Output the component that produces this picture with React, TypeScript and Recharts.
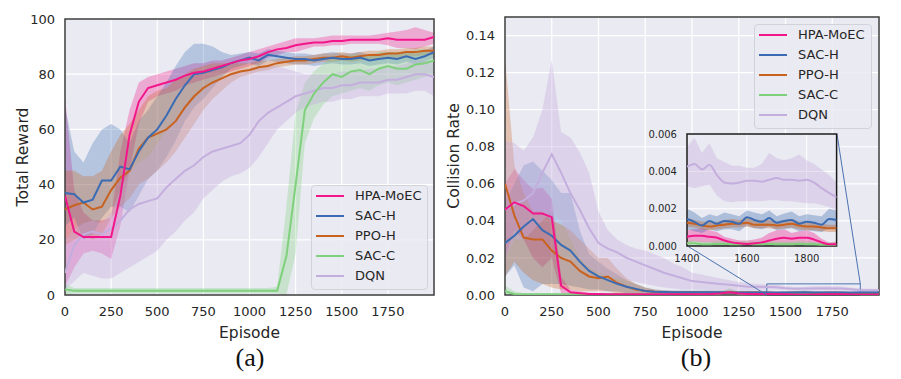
import {
  ComposedChart, Area, Line, XAxis, YAxis, CartesianGrid, ReferenceArea, ReferenceLine,
} from 'recharts';

// episodes sampled every 50 steps
const episodes = [
  0, 50, 100, 150, 200, 250, 300, 350, 400, 450, 500, 550, 600, 650, 700, 750, 800, 850, 900, 950,
  1000, 1050, 1100, 1150, 1200, 1250, 1300, 1350, 1400, 1450, 1500, 1550, 1600, 1650, 1700, 1750,
  1800, 1850, 1900, 1950, 2000,
];
const episodeTicks = [0, 250, 500, 750, 1000, 1250, 1500, 1750];
const rewardTicks = [0, 20, 40, 60, 80, 100];
const collisionTicks = [0, 0.02, 0.04, 0.06, 0.08, 0.1, 0.12, 0.14];

// (a) total reward: mean, lower, upper
const rewardHpa = [36, 23, 21, 21, 21, 21, 36, 58, 70, 75, 76, 77, 78, 79.5, 80.5, 81, 82, 83, 84, 85, 85.5, 86.5, 88, 89, 89.5, 90.5, 91, 91.5, 91.5, 92, 92, 92.5, 92.5, 92.5, 92.5, 93, 92.5, 92.5, 92.5, 92.5, 93.5];
const rewardHpaLo = [3, 10, 15, 16, 15, 13, 25, 45, 62, 70, 72, 73, 74, 76, 77, 78, 79, 80, 81, 82, 83, 84, 86, 87, 88, 88, 89, 90, 90, 90.5, 90.5, 91, 91, 91, 91, 90.5, 89.5, 89.5, 89, 90, 91];
const rewardHpaHi = [72, 38, 30, 27, 27, 28, 52, 67, 77, 79, 80, 81, 82, 83, 84, 84, 85, 85, 86, 87, 88, 89, 90, 91, 92, 93, 93, 93, 93.5, 94, 94, 94, 94, 94, 94.5, 95, 95.5, 96, 97, 96, 95];

const rewardSacH = [37, 36.5, 33.5, 34.5, 41.5, 41.5, 46.5, 45.5, 52, 57, 60, 65, 71, 76, 80, 80.5, 81.5, 82.5, 84, 85, 86, 85, 87, 86.5, 86, 85.5, 85.5, 85, 85.5, 86, 85.5, 85.5, 86, 85, 85.5, 86, 85.5, 86.5, 85.5, 86.5, 88];
const rewardSacHLo = [25, 28, 20, 22, 28, 32, 32, 30, 36, 42, 45, 50, 56, 63, 68, 71, 75, 79, 82, 83, 84, 83, 85, 84.5, 84, 83.5, 83.5, 83, 83.5, 84, 83.5, 83.5, 84, 83, 83.5, 84, 83.5, 84.5, 83.5, 84.5, 86];
const rewardSacHHi = [68, 52, 48, 55, 60, 62, 60, 55, 63, 67, 72, 77, 83, 88, 91, 91, 90, 88, 87, 87.5, 88, 87.5, 89, 88.5, 88, 87.5, 87.5, 87, 87.5, 88, 87.5, 87.5, 88, 87, 87.5, 88, 87.5, 88.5, 87.5, 88.5, 90];

const rewardPpoH = [31, 32.5, 33.5, 31, 32, 38, 42.5, 45, 53, 57, 58.5, 60, 63, 68, 72, 75, 77, 78.5, 80, 81, 81.5, 82.5, 83, 84, 84.5, 85, 85, 85.5, 86, 86, 86.5, 86, 86.5, 87, 87, 87.5, 87.5, 88, 88, 88.5, 88.5];
const rewardPpoHLo = [18, 20, 22, 20, 22, 28, 32, 35, 40, 42, 45, 48, 52, 57, 62, 67, 71, 74, 77, 79, 80, 81, 81.5, 82.5, 83, 83.5, 83.5, 84, 84.5, 84.5, 85, 84.5, 85, 85.5, 85.5, 86, 86, 86.5, 86.5, 87, 87];
const rewardPpoHHi = [45, 45, 43, 43, 45, 52, 58, 62, 67, 72, 74, 75, 78, 80, 82, 83, 84, 84, 84, 84, 84, 85, 85, 85.5, 86, 86.5, 86.5, 87, 87.5, 87.5, 88, 87.5, 88, 88.5, 88.5, 89, 89, 89.5, 89.5, 90, 90];

const rewardSacC = [2, 1.5, 1.5, 1.5, 1.5, 1.5, 1.5, 1.5, 1.5, 1.5, 1.5, 1.5, 1.5, 1.5, 1.5, 1.5, 1.5, 1.5, 1.5, 1.5, 1.5, 1.5, 1.5, 1.5, 14, 40, 67, 73, 77, 80, 79, 81, 81.5, 80, 82, 83, 82, 82, 83.5, 84, 85];
const rewardSacCLo = [0, 0.5, 0.5, 0.5, 0.5, 0.5, 0.5, 0.5, 0.5, 0.5, 0.5, 0.5, 0.5, 0.5, 0.5, 0.5, 0.5, 0.5, 0.5, 0.5, 0.5, 0.5, 0.5, 0.5, 0, 15, 55, 64, 69, 72, 73, 74, 75, 74, 76, 77, 76, 77, 78, 79, 80];
const rewardSacCHi = [4, 2.5, 2.5, 2.5, 2.5, 2.5, 2.5, 2.5, 2.5, 2.5, 2.5, 2.5, 2.5, 2.5, 2.5, 2.5, 2.5, 2.5, 2.5, 2.5, 2.5, 2.5, 2.5, 3, 32, 66, 77, 81, 84, 86, 86, 87, 87, 87, 88, 88, 88, 88, 89, 89, 88];

const rewardDqn = [8, 18, 22, 23, 22, 24, 27, 31, 33, 34, 35, 39, 42, 45, 47, 50, 52, 53, 54, 55, 58, 63, 66, 68, 70, 72, 73, 74, 75, 75, 76, 76, 77, 77, 77, 78, 78, 79, 80, 80, 79];
const rewardDqnLo = [2, 5, 8, 7, 6, 6, 8, 10, 12, 14, 16, 20, 23, 27, 30, 35, 38, 41, 43, 44, 46, 50, 55, 60, 63, 66, 68, 69, 70, 70, 71, 71, 72, 72, 72, 73, 73, 73, 74, 74, 72];
const rewardDqnHi = [20, 24, 26, 27, 26, 30, 38, 45, 48, 50, 55, 60, 64, 67, 71, 74, 77, 79, 80, 81, 82, 83, 83, 83, 82, 81, 80, 80, 80, 80, 81, 81, 81, 82, 82, 83, 83, 84, 85, 85, 84];

// (b) collision rate: mean, lower, upper
const colHpa = [0.046, 0.05, 0.048, 0.044, 0.044, 0.042, 0.005, 0.0015, 0.001, 0.0006, 0.0005, 0.0004, 0.0004, 0.0004, 0.0004, 0.0004, 0.0004, 0.0004, 0.0004, 0.0004, 0.0004, 0.0004, 0.0005, 0.0008, 0.0015, 0.0008, 0.0005, 0.0005, 0.0005, 0.0005, 0.0004, 0.0002, 0.0001, 0.0002, 0.0004, 0.0004, 0.0004, 0.0003, 0.0001, 0.0001, 0.0001];
const colHpaLo = [0.02, 0.035, 0.03, 0.02, 0.015, 0.02, 0.001, 0, 0, 0, 0, 0, 0, 0, 0, 0, 0, 0, 0, 0, 0, 0, 0, 0.0002, 0.0005, 0.0002, 0, 0, 0.0002, 0.0001, 0.0001, 0, 0, 0, 0.0001, 0.0001, 0.0001, 0, 0, 0, 0];
const colHpaHi = [0.06, 0.068, 0.062, 0.057, 0.058, 0.052, 0.01, 0.003, 0.002, 0.0012, 0.001, 0.0009, 0.0009, 0.0009, 0.0009, 0.0009, 0.0009, 0.0009, 0.0009, 0.0009, 0.0009, 0.0009, 0.001, 0.0018, 0.003, 0.0018, 0.001, 0.001, 0.0009, 0.0009, 0.0007, 0.0004, 0.0003, 0.0006, 0.0009, 0.0009, 0.0008, 0.0006, 0.0003, 0.0003, 0.0003];

const colSacH = [0.028, 0.032, 0.037, 0.041, 0.035, 0.032, 0.027, 0.024, 0.018, 0.013, 0.01, 0.008, 0.006, 0.0045, 0.0033, 0.0022, 0.0018, 0.0016, 0.0015, 0.0015, 0.0015, 0.0015, 0.0015, 0.0015, 0.0014, 0.0014, 0.0014, 0.0014, 0.0014, 0.0012, 0.0013, 0.0013, 0.0015, 0.0013, 0.0013, 0.0013, 0.0013, 0.0012, 0.0014, 0.0013, 0.0013];
const colSacHLo = [0.01, 0.016, 0.004, 0.002, 0.006, 0.006, 0.006, 0.005, 0.004, 0.003, 0.003, 0.002, 0.002, 0.001, 0.001, 0.0008, 0.0008, 0.0008, 0.0008, 0.0008, 0.0008, 0.0008, 0.0008, 0.0008, 0.0008, 0.0008, 0.0008, 0.0008, 0.0008, 0.0008, 0.0008, 0.0008, 0.0008, 0.0008, 0.0008, 0.0008, 0.0008, 0.0008, 0.0008, 0.0008, 0.0008];
const colSacHHi = [0.05, 0.06, 0.07, 0.072, 0.067, 0.062, 0.055, 0.055, 0.035, 0.022, 0.018, 0.014, 0.011, 0.008, 0.006, 0.004, 0.003, 0.0025, 0.0024, 0.0024, 0.0024, 0.0024, 0.0024, 0.0024, 0.0023, 0.0023, 0.0023, 0.0023, 0.0023, 0.0021, 0.0022, 0.0022, 0.0024, 0.0022, 0.0022, 0.0022, 0.0022, 0.0021, 0.0023, 0.0022, 0.0022];

const colPpoH = [0.06, 0.043, 0.031, 0.03, 0.03, 0.024, 0.02, 0.018, 0.013, 0.01, 0.009, 0.01, 0.0065, 0.0045, 0.003, 0.0022, 0.0018, 0.0016, 0.0014, 0.0014, 0.0014, 0.0014, 0.0014, 0.0014, 0.0014, 0.0014, 0.0013, 0.0013, 0.0012, 0.0011, 0.0011, 0.0012, 0.0012, 0.0011, 0.0011, 0.0012, 0.0011, 0.001, 0.001, 0.001, 0.001];
const colPpoHLo = [0.01, 0.018, 0.012, 0.008, 0.006, 0.004, 0.003, 0.003, 0.002, 0.002, 0.002, 0.002, 0.001, 0.001, 0.0008, 0.0008, 0.0008, 0.0008, 0.0008, 0.0008, 0.0008, 0.0008, 0.0008, 0.0008, 0.0008, 0.0008, 0.0008, 0.0008, 0.0008, 0.0008, 0.0008, 0.0008, 0.0008, 0.0008, 0.0008, 0.0008, 0.0008, 0.0008, 0.0008, 0.0008, 0.0008];
const colPpoHHi = [0.128, 0.07, 0.055, 0.045, 0.045, 0.04, 0.038, 0.035, 0.03, 0.025, 0.02, 0.02, 0.014, 0.009, 0.006, 0.004, 0.003, 0.0024, 0.0022, 0.0022, 0.0022, 0.0022, 0.0022, 0.0022, 0.0022, 0.0022, 0.0021, 0.0021, 0.002, 0.0019, 0.0019, 0.002, 0.002, 0.0019, 0.0019, 0.002, 0.0019, 0.0018, 0.0018, 0.0018, 0.0018];

const colSacC = [0.002, 0.0006, 0.0004, 0.0004, 0.0004, 0.0004, 0.0004, 0.0004, 0.0004, 0.0004, 0.0004, 0.0004, 0.0004, 0.0004, 0.0004, 0.0004, 0.0004, 0.0004, 0.0004, 0.0004, 0.0004, 0.0004, 0.0004, 0.0008, 0.0018, 0.0008, 0.00015, 0.00015, 0.00015, 0.00015, 0.00015, 0.00015, 0.00015, 0.00015, 0.00015, 0.00015, 0.00015, 0.00015, 0.00015, 0.00015, 0.00015];
const colSacCLo = [0, 0, 0, 0, 0, 0, 0, 0, 0, 0, 0, 0, 0, 0, 0, 0, 0, 0, 0, 0, 0, 0, 0, 0, 0, 0, 0, 0, 0, 0, 0, 0, 0, 0, 0, 0, 0, 0, 0, 0, 0];
const colSacCHi = [0.005, 0.002, 0.0008, 0.0008, 0.0008, 0.0008, 0.0008, 0.0008, 0.0008, 0.0008, 0.0008, 0.0008, 0.0008, 0.0008, 0.0008, 0.0008, 0.0008, 0.0008, 0.0008, 0.0008, 0.0008, 0.0008, 0.0008, 0.0018, 0.0038, 0.0018, 0.0003, 0.0003, 0.0003, 0.0003, 0.0003, 0.0003, 0.0003, 0.0003, 0.0003, 0.0003, 0.0003, 0.0003, 0.0003, 0.0003, 0.0003];

const colDqn = [0.046, 0.049, 0.051, 0.055, 0.066, 0.076, 0.066, 0.055, 0.046, 0.036, 0.028, 0.025, 0.023, 0.02, 0.018, 0.016, 0.014, 0.012, 0.0105, 0.009, 0.0075, 0.007, 0.0065, 0.006, 0.0055, 0.005, 0.0045, 0.0045, 0.0043, 0.0042, 0.0037, 0.0034, 0.0035, 0.0035, 0.0036, 0.0035, 0.0035, 0.0031, 0.0026, 0.0025, 0.0025];
const colDqnLo = [0.02, 0.03, 0.03, 0.035, 0.04, 0.045, 0.04, 0.03, 0.02, 0.015, 0.012, 0.01, 0.009, 0.008, 0.007, 0.006, 0.005, 0.004, 0.0035, 0.003, 0.003, 0.0028, 0.0026, 0.0025, 0.0025, 0.0025, 0.0025, 0.0028, 0.003, 0.003, 0.0026, 0.0024, 0.0024, 0.0024, 0.0025, 0.0024, 0.0024, 0.0022, 0.0018, 0.0017, 0.0016];
const colDqnHi = [0.083, 0.082, 0.078, 0.085, 0.1, 0.127, 0.088, 0.085, 0.077, 0.066, 0.045, 0.035, 0.03, 0.027, 0.025, 0.024, 0.022, 0.02, 0.017, 0.015, 0.012, 0.011, 0.01, 0.009, 0.008, 0.007, 0.0065, 0.006, 0.0057, 0.0055, 0.0048, 0.0043, 0.0042, 0.0048, 0.0047, 0.0049, 0.0046, 0.004, 0.0035, 0.0034, 0.0034];

// zoomed inset, episodes 1400-1900 every 25 steps
const zoomEpisodes = [1400, 1425, 1450, 1475, 1500, 1525, 1550, 1575, 1600, 1625, 1650, 1675, 1700, 1725, 1750, 1775, 1800, 1825, 1850, 1875, 1900];
const zoomTicksX = [1400, 1600, 1800];
const zoomTicksY = [0, 0.002, 0.004, 0.006];

const zHpa = [0.0005, 0.00055, 0.00055, 0.0005, 0.00045, 0.0003, 0.0002, 0.00015, 0.00012, 0.00015, 0.0002, 0.0003, 0.0004, 0.00045, 0.0004, 0.00045, 0.00045, 0.00035, 0.0002, 0.0001, 0.0001];
const zHpaLo = [0.0002, 0.00025, 0.0002, 0.0002, 0.00015, 0.00005, 0, 0, 0, 0, 0, 0.00005, 0.0001, 0.0001, 0.0001, 0.0001, 0.0001, 0.00005, 0, 0, 0];
const zHpaHi = [0.00085, 0.0009, 0.00095, 0.00085, 0.00075, 0.0005, 0.0004, 0.0003, 0.0003, 0.00035, 0.00045, 0.0007, 0.00085, 0.0009, 0.0007, 0.0008, 0.00085, 0.0007, 0.0004, 0.0002, 0.00025];
const zSacH = [0.00145, 0.0013, 0.0011, 0.00135, 0.0012, 0.00135, 0.0013, 0.0012, 0.00155, 0.0014, 0.0013, 0.0015, 0.00125, 0.00135, 0.0014, 0.0012, 0.0013, 0.00125, 0.00115, 0.00145, 0.0014];
const zSacHLo = [0.0009, 0.0008, 0.0007, 0.0009, 0.0008, 0.0009, 0.0009, 0.0008, 0.0011, 0.00095, 0.0009, 0.00105, 0.00085, 0.0009, 0.00095, 0.0008, 0.00085, 0.0008, 0.00075, 0.00095, 0.0009];
const zSacHHi = [0.002, 0.0018, 0.0015, 0.0017, 0.0016, 0.0018, 0.0017, 0.0016, 0.0019, 0.0018, 0.0017, 0.0019, 0.0016, 0.00175, 0.00185, 0.0016, 0.0017, 0.00165, 0.0016, 0.002, 0.0019];
const zPpoH = [0.00125, 0.0012, 0.0011, 0.00105, 0.0011, 0.00115, 0.0012, 0.0012, 0.00125, 0.00115, 0.00115, 0.00115, 0.0011, 0.00115, 0.0012, 0.0011, 0.00105, 0.00105, 0.001, 0.00095, 0.00095];
const zPpoHLo = [0.00105, 0.001, 0.0009, 0.00085, 0.0009, 0.00095, 0.001, 0.001, 0.00105, 0.00095, 0.00095, 0.00095, 0.0009, 0.00095, 0.001, 0.0009, 0.00085, 0.00085, 0.0008, 0.00075, 0.00075];
const zPpoHHi = [0.0015, 0.0014, 0.0013, 0.0013, 0.0013, 0.0014, 0.00145, 0.0014, 0.0015, 0.0014, 0.0014, 0.0014, 0.0013, 0.0014, 0.00145, 0.0013, 0.0013, 0.00125, 0.0012, 0.00115, 0.00115];
const zSacC = [0.00015, 0.00015, 0.0001, 0.0001, 0.00012, 0.00012, 0.0001, 0.0001, 0.00012, 0.0001, 0.0001, 0.00012, 0.0001, 0.0001, 0.0001, 0.00012, 0.0001, 0.0001, 0.00008, 0.00008, 0.00008];
const zSacCLo = [0, 0, 0, 0, 0, 0, 0, 0, 0, 0, 0, 0, 0, 0, 0, 0, 0, 0, 0, 0, 0];
const zSacCHi = [0.00032, 0.0003, 0.00025, 0.00025, 0.0003, 0.00028, 0.00025, 0.00025, 0.00028, 0.00025, 0.00025, 0.0003, 0.00025, 0.00025, 0.00025, 0.00028, 0.00025, 0.00022, 0.0002, 0.0002, 0.0002];
const zDqn = [0.00425, 0.0044, 0.0041, 0.00435, 0.0038, 0.0034, 0.00335, 0.0034, 0.0035, 0.0035, 0.00345, 0.00355, 0.00365, 0.00355, 0.00355, 0.0035, 0.00355, 0.0034, 0.0031, 0.00285, 0.0026];
const zDqnLo = [0.0032, 0.0031, 0.0032, 0.0033, 0.0027, 0.0024, 0.00235, 0.0024, 0.0024, 0.0024, 0.0024, 0.00245, 0.00245, 0.0024, 0.0024, 0.00235, 0.0023, 0.0023, 0.0022, 0.0021, 0.0019];
const zDqnHi = [0.0053, 0.0058, 0.005, 0.0055, 0.0047, 0.0045, 0.0043, 0.0043, 0.0042, 0.0042, 0.0044, 0.005, 0.0047, 0.0046, 0.0047, 0.0049, 0.0046, 0.0044, 0.0041, 0.0038, 0.0034];

const SERIES = [
  { key: 'hpa', name: 'HPA-MoEC', color: '#f2168a' },
  { key: 'sach', name: 'SAC-H', color: '#3b6cb3' },
  { key: 'ppoh', name: 'PPO-H', color: '#c9621f' },
  { key: 'sacc', name: 'SAC-C', color: '#7fd07c' },
  { key: 'dqn', name: 'DQN', color: '#c4aede' },
];

type Triple = [number[], number[], number[]];

function buildRows(xs: number[], sets: Record<string, Triple>) {
  return xs.map((ep, i) => {
    const row: Record<string, number | number[]> = { ep };
    for (const [k, [m, lo, hi]] of Object.entries(sets)) {
      row[k] = m[i];
      row[`${k}Band`] = [lo[i], hi[i]];
    }
    return row;
  });
}

const rewardRows = buildRows(episodes, {
  hpa: [rewardHpa, rewardHpaLo, rewardHpaHi],
  sach: [rewardSacH, rewardSacHLo, rewardSacHHi],
  ppoh: [rewardPpoH, rewardPpoHLo, rewardPpoHHi],
  sacc: [rewardSacC, rewardSacCLo, rewardSacCHi],
  dqn: [rewardDqn, rewardDqnLo, rewardDqnHi],
});
const collisionRows = buildRows(episodes, {
  hpa: [colHpa, colHpaLo, colHpaHi],
  sach: [colSacH, colSacHLo, colSacHHi],
  ppoh: [colPpoH, colPpoHLo, colPpoHHi],
  sacc: [colSacC, colSacCLo, colSacCHi],
  dqn: [colDqn, colDqnLo, colDqnHi],
});
const zoomRows = buildRows(zoomEpisodes, {
  hpa: [zHpa, zHpaLo, zHpaHi],
  sach: [zSacH, zSacHLo, zSacHHi],
  ppoh: [zPpoH, zPpoHLo, zPpoHHi],
  sacc: [zSacC, zSacCLo, zSacCHi],
  dqn: [zDqn, zDqnLo, zDqnHi],
});

const TEXT = '#262626';
const BG = '#eaeaf2';
const FRAME = '#3c3c3c';
const ZOOM_LINE = '#4a72b0';

// panel (b) geometry, used to place the inset
const B_LEFT = 430;
const B_W = 471;
const B_YAXIS = 75;
const B_MARGIN = { top: 17, right: 22, left: 0, bottom: 39 };
const B_XAXIS = 45;
const H = 379;
const bPlotLeft = B_LEFT + B_YAXIS;
const bPlotW = B_W - B_YAXIS - B_MARGIN.right;
const bPlotTop = B_MARGIN.top;
const bPlotH = H - B_MARGIN.top - B_MARGIN.bottom - B_XAXIS;
const X_MAX = 2000;
const Y_MAX_B = 0.15;
// inset box corners expressed in panel (b) data units
const INSET_X = [975, 1775];
const INSET_Y = [0.0265, 0.087];
const px = (ep: number) => bPlotLeft + (ep / X_MAX) * bPlotW;
const py = (v: number) => bPlotTop + (1 - v / Y_MAX_B) * bPlotH;

function bands(opacity = 0.3) {
  return SERIES.map(s => (
    <Area key={`${s.key}-band`} type="linear" dataKey={`${s.key}Band`} stroke="none"
      fill={s.color} fillOpacity={s.key === 'dqn' ? 0.38 : opacity}
      isAnimationActive={false} dot={false} activeDot={false} />
  ));
}

function lines(type: 'linear' | 'monotone' = 'linear', width = 2) {
  return [...SERIES].reverse().map(s => (
    <Line key={`${s.key}-line`} type={type} dataKey={s.key} stroke={s.color} strokeWidth={width}
      dot={false} activeDot={false} isAnimationActive={false} />
  ));
}

function LegendBox({ left, top, width }: { left: number; top: number; width: number }) {
  return (
    <div style={{
      position: 'absolute', left, top, width, boxSizing: 'border-box',
      background: 'rgba(234,234,242,0.85)', border: '1px solid #d2d2da', borderRadius: 4,
      padding: '0 0 3px 4px',
    }}>
      {SERIES.map(s => (
        <div key={s.key} style={{ display: 'flex', alignItems: 'center', height: 20 }}>
          <span style={{ width: 28, height: 2, background: s.color, display: 'inline-block' }} />
          <span style={{ marginLeft: 11, fontSize: 13, color: TEXT, lineHeight: '20px' }}>{s.name}</span>
        </div>
      ))}
    </div>
  );
}

const tickStyle = { fill: TEXT, fontSize: 13 };

function Caption({ x, text }: { x: number; text: string }) {
  return (
    <div style={{
      position: 'absolute', left: x - 40, top: 343, width: 80, textAlign: 'center',
      fontFamily: '"Liberation Serif", "Times New Roman", serif', fontSize: 26, lineHeight: '30px', color: '#111',
    }}>{text}</div>
  );
}

export default function App() {
  const insetLeft = px(INSET_X[0]);
  const insetRight = px(INSET_X[1]);
  const insetTop = py(INSET_Y[1]);
  const insetBottom = py(INSET_Y[0]);
  const zYAxis = 45;
  const zMargin = { top: 6, right: 4, left: 0, bottom: 0 };
  const zXAxis = 24;

  return (
    <div style={{
      position: 'absolute', left: 0, top: 0, width: 901, height: H, background: '#fff',
      fontFamily: '"DejaVu Sans", sans-serif', overflow: 'hidden',
    }}>
      {/* (a) total reward */}
      <div style={{ position: 'absolute', left: 0, top: 0 }}>
        <ComposedChart width={450} height={H} data={rewardRows}
          margin={{ top: 19, right: 16, left: 0, bottom: 39 }}>
          <CartesianGrid fill={BG} stroke="#ffffff" strokeWidth={1.2} />
          <XAxis dataKey="ep" type="number" domain={[0, X_MAX]} ticks={episodeTicks} height={45}
            tickSize={0} tickMargin={12} axisLine={false} tickLine={false} tick={tickStyle}
            allowDataOverflow
            label={{ value: 'Episode', position: 'insideBottom', offset: 2, fontSize: 15.5, fill: TEXT }} />
          <YAxis type="number" domain={[0, 100]} ticks={rewardTicks} width={65}
            tickSize={0} tickMargin={10} axisLine={false} tickLine={false} tick={tickStyle}
            label={{ value: 'Total Reward', angle: -90, position: 'insideLeft', offset: 22,
              fontSize: 15.5, fill: TEXT, style: { textAnchor: 'middle' } }} />
          {bands()}
          {lines()}
          <ReferenceArea x1={0} x2={X_MAX} y1={0} y2={100} fill="none" stroke={FRAME} strokeWidth={1.5} />
        </ComposedChart>
      </div>
      <LegendBox left={311} top={185} width={117} />
      <Caption x={250} text="(a)" />

      {/* (b) collision rate */}
      <div style={{ position: 'absolute', left: B_LEFT, top: 0 }}>
        <ComposedChart width={B_W} height={H} data={collisionRows} margin={B_MARGIN}>
          <CartesianGrid fill={BG} stroke="#ffffff" strokeWidth={1.2} />
          <XAxis dataKey="ep" type="number" domain={[0, X_MAX]} ticks={episodeTicks} height={B_XAXIS}
            tickSize={0} tickMargin={12} axisLine={false} tickLine={false} tick={tickStyle}
            allowDataOverflow
            label={{ value: 'Episode', position: 'insideBottom', offset: 2, fontSize: 15.5, fill: TEXT }} />
          <YAxis type="number" domain={[0, Y_MAX_B]} ticks={collisionTicks} width={B_YAXIS}
            tickSize={0} tickMargin={10} axisLine={false} tickLine={false} tick={tickStyle}
            tickFormatter={(v: number) => v.toFixed(2)} allowDataOverflow
            label={{ value: 'Collision Rate', angle: -90, position: 'insideLeft', offset: 23,
              fontSize: 15.5, fill: TEXT, style: { textAnchor: 'middle' } }} />
          {bands()}
          {lines()}
          <ReferenceArea x1={zoomEpisodes[0]} x2={zoomEpisodes[zoomEpisodes.length - 1]} y1={0} y2={zoomTicksY[3]}
            fill="none" stroke={ZOOM_LINE} strokeWidth={1} />
          <ReferenceLine segment={[{ x: zoomEpisodes[0], y: 0 }, { x: INSET_X[0], y: INSET_Y[0] }]}
            stroke={ZOOM_LINE} strokeWidth={1} />
          <ReferenceLine segment={[{ x: zoomEpisodes[zoomEpisodes.length - 1], y: zoomTicksY[3] }, { x: INSET_X[1], y: INSET_Y[1] }]}
            stroke={ZOOM_LINE} strokeWidth={1} />
          <ReferenceArea x1={0} x2={X_MAX} y1={0} y2={Y_MAX_B} fill="none" stroke={FRAME} strokeWidth={1.5} />
        </ComposedChart>
      </div>
      <LegendBox left={754} top={24} width={118} />
      <Caption x={696} text="(b)" />

      {/* zoomed inset */}
      <div style={{ position: 'absolute', left: insetLeft - zYAxis, top: insetTop - zMargin.top }}>
        <ComposedChart width={zYAxis + (insetRight - insetLeft) + zMargin.right}
          height={zMargin.top + (insetBottom - insetTop) + zXAxis} data={zoomRows} margin={zMargin}>
          <CartesianGrid fill={BG} stroke="#ffffff" strokeWidth={1} />
          <XAxis dataKey="ep" type="number" domain={[1400, 1900]} ticks={zoomTicksX} height={zXAxis}
            tickSize={0} tickMargin={9} axisLine={false} tickLine={false}
            tick={{ fill: TEXT, fontSize: 10 }} allowDataOverflow />
          <YAxis type="number" domain={[0, 0.006]} ticks={zoomTicksY} width={zYAxis}
            tickSize={0} tickMargin={10} axisLine={false} tickLine={false}
            tick={{ fill: TEXT, fontSize: 10 }} tickFormatter={(v: number) => v.toFixed(3)} allowDataOverflow />
          {bands(0.35)}
          {lines('monotone', 2)}
          <ReferenceArea x1={1400} x2={1900} y1={0} y2={0.006} fill="none" stroke="#1a1a1a" strokeWidth={1.5} />
        </ComposedChart>
      </div>
    </div>
  );
}
